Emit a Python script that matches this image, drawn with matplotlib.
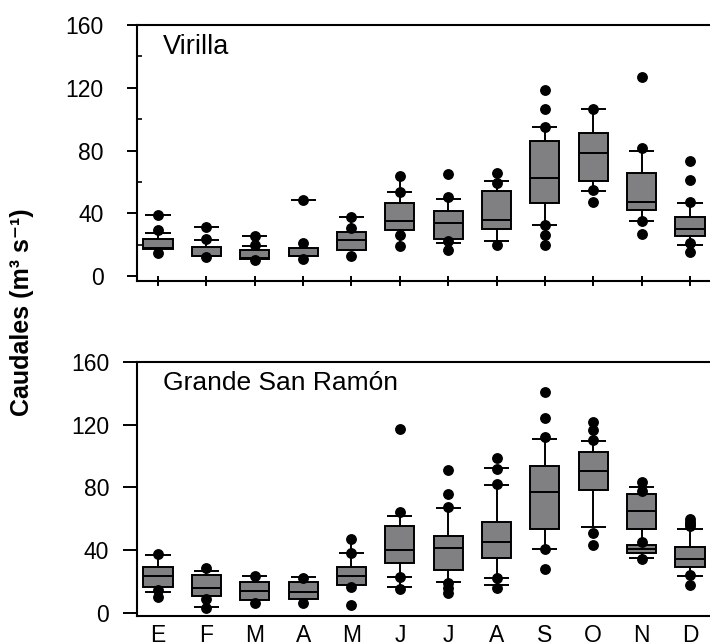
import matplotlib
matplotlib.use('Agg')
import matplotlib.pyplot as plt
from matplotlib.ticker import MultipleLocator

plt.rcParams['font.family'] = ['Liberation Sans', 'DejaVu Sans']

months = ['E', 'F', 'M', 'A', 'M', 'J', 'J', 'A', 'S', 'O', 'N', 'D']

# Virilla (m3/s)
vir_q1 = [17.5, 12.6, 11.0, 12.6, 16.9, 29.2, 23.9, 30.1, 46.6, 60.8, 42.4, 25.6]
vir_med = [17.9, 13.0, 11.4, 13.0, 23.2, 34.9, 33.9, 36.0, 62.5, 78.2, 47.6, 30.3]
vir_q3 = [23.9, 18.6, 16.9, 18.0, 28.5, 46.6, 41.7, 54.0, 85.9, 91.0, 65.9, 37.5]
vir_wlo = [17.5, 12.6, 11.0, 12.6, 16.9, 19.4, 21.1, 20.1, 32.6, 54.0, 35.5, 20.1]
vir_whi = [27.3, 22.8, 19.6, 18.0, 37.9, 63.6, 50.4, 65.7, 94.8, 106.7, 81.4, 47.6]
vir_caps = [[27.3, 39.2], [22.8, 31.7], [19.6, 25.4], [48.7], [37.9], [53.6],
            [49.4, 21.1], [60.4, 22.6], [94.8, 32.6], [106.7, 54.0],
            [79.9, 35.5], [46.4, 20.1]]
vir_dots = [[39.2, 29.6, 15.0], [31.7, 23.7, 12.0], [25.4, 19.7, 10.1],
            [48.7, 21.1, 11.1], [37.9, 30.7, 13.1], [63.6, 53.6, 26.4, 19.4],
            [65.1, 50.4, 22.6, 16.9], [65.7, 59.7, 20.1],
            [118.3, 106.7, 94.8, 32.6, 26.0, 20.1], [106.7, 55.1, 47.0],
            [126.6, 81.4, 35.5, 26.9], [73.4, 61.0, 47.6, 21.5, 15.2]]

# Grande San Ramon (m3/s)
gsr_q1 = [16.4, 10.9, 8.3, 8.8, 17.9, 31.7, 27.5, 34.9, 53.4, 78.1, 53.6, 29.2]
gsr_med = [23.4, 16.0, 14.2, 13.6, 23.8, 39.8, 41.3, 44.9, 76.8, 90.7, 64.7, 34.3]
gsr_q3 = [29.5, 24.0, 19.9, 19.4, 29.2, 55.6, 49.2, 57.9, 93.5, 102.4, 75.5, 42.3]
gsr_wlo = [13.5, 3.0, 6.2, 6.6, 16.4, 15.3, 19.6, 22.2, 40.7, 54.5, 45.5, 17.7]
gsr_whi = [37.5, 28.5, 23.6, 22.2, 47.1, 64.5, 67.7, 81.3, 112.0, 121.8, 80.0, 59.6]
gsr_caps = [[36.8, 13.5], [27.0, 4.0], [23.6], [22.8], [38.1],
            [61.5, 22.6, 16.4], [66.6, 19.6], [92.4, 81.3, 22.2, 17.7],
            [110.9, 40.7], [109.4, 54.5], [80.0, 34.9], [53.6, 23.6]]
gsr_dots = [[37.5, 14.7, 9.9], [28.5, 8.8, 3.0], [23.6, 6.2], [22.2, 6.6],
            [47.1, 38.5, 16.4, 5.1], [117.5, 64.5, 22.6, 15.3],
            [90.9, 75.6, 67.7, 19.0, 15.8, 12.6], [98.8, 91.8, 82.4, 22.2, 15.8],
            [141.0, 124.4, 112.0, 40.7, 27.9], [121.8, 116.9, 110.3, 50.9, 43.0],
            [83.7, 77.5, 45.5, 34.3], [59.8, 58.0, 56.5, 55.1, 24.3, 17.7]]
# November of Grande San Ramon has a second short box under the main one
gsr_nov_box = {'q1': 38.5, 'med': 41.0, 'q3': 43.4, 'whislo': 34.9, 'whishi': 43.4}

W, H = 710, 643
fig = plt.figure(figsize=(W / 100, H / 100), dpi=100)
ax1 = fig.add_axes([137 / W, 1 - 281 / H, 574 / W, 256 / H])
ax2 = fig.add_axes([137 / W, 1 - 616 / H, 574 / W, 254 / H])

pos = list(range(1, 13))
gray = '#808083'
boxw = 0.6
capw = 0.52


def draw_panel(ax, q1, med, q3, wlo, whi, caps, dots):
    stats = []
    for i in range(12):
        stats.append({'q1': q1[i], 'med': med[i], 'q3': q3[i],
                      'whislo': wlo[i], 'whishi': whi[i], 'fliers': []})
    ax.bxp(stats, positions=pos, widths=boxw, patch_artist=True,
           showcaps=False, showfliers=False,
           boxprops=dict(facecolor=gray, edgecolor='black', linewidth=1.4),
           medianprops=dict(color='black', linewidth=1.4),
           whiskerprops=dict(color='black', linewidth=1.4))
    for i in range(12):
        for c in caps[i]:
            ax.hlines(c, pos[i] - capw / 2, pos[i] + capw / 2,
                      color='black', linewidth=1.4, zorder=3)
        ax.plot([pos[i]] * len(dots[i]), dots[i], 'o', color='black',
                markersize=6.8, zorder=4)


draw_panel(ax1, vir_q1, vir_med, vir_q3, vir_wlo, vir_whi, vir_caps, vir_dots)
draw_panel(ax2, gsr_q1, gsr_med, gsr_q3, gsr_wlo, gsr_whi, gsr_caps, gsr_dots)

extra = dict(gsr_nov_box)
extra['fliers'] = []
ax2.bxp([extra], positions=[11], widths=boxw, patch_artist=True,
        showcaps=False, showfliers=False,
        boxprops=dict(facecolor=gray, edgecolor='black', linewidth=1.4),
        medianprops=dict(color='black', linewidth=1.4),
        whiskerprops=dict(color='black', linewidth=1.4))

for ax in (ax1, ax2):
    ax.set_xlim(0.566, 12.434)
    ax.set_yticks([0, 40, 80, 120, 160])
    ax.spines['right'].set_visible(False)
    for s in ('left', 'bottom', 'top'):
        ax.spines[s].set_linewidth(1.5)
    ax.tick_params(axis='y', labelsize=16.5, width=1.4)

ax1.set_ylim(-3, 160)
ax2.set_ylim(-2, 160)

ax1.set_xticks(pos)
ax1.set_xticklabels([])
ax1.tick_params(axis='x', direction='inout', length=7, width=1.4)
ax1.tick_params(axis='y', direction='out', length=7.2, pad=17)
ax1.yaxis.set_minor_locator(MultipleLocator(20))
ax1.tick_params(axis='y', which='minor', direction='in', length=3.5, width=1.2)

ax2.set_xticks(pos)
ax2.set_xticklabels(months, fontsize=16.5)
ax2.tick_params(axis='x', length=0, pad=6)
ax2.tick_params(axis='y', direction='out', length=10, pad=10)

ax1.text(0.045, 0.965, 'Virilla', transform=ax1.transAxes, fontsize=19.5,
         va='top', ha='left')
ax2.text(0.045, 0.965, 'Grande San Ramón', transform=ax2.transAxes,
         fontsize=19, va='top', ha='left')

fig.text(22 / W, 1 - 312 / H, 'Caudales (m³ s⁻¹)', rotation=90,
         fontsize=18, fontweight='bold', ha='center', va='center')

fig.savefig('out.png', dpi=100)
